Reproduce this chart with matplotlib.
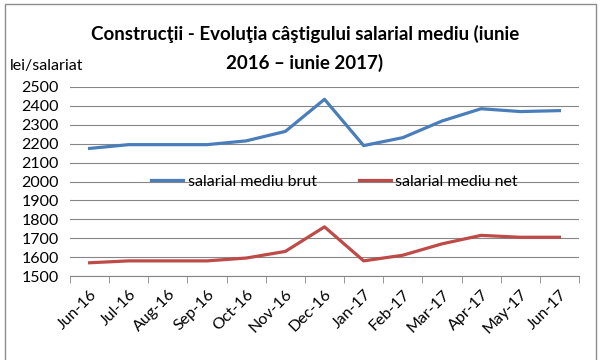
import matplotlib.pyplot as plt
import numpy as np
from matplotlib.patches import Rectangle

months = ['Jun-16', 'Jul-16', 'Aug-16', 'Sep-16', 'Oct-16', 'Nov-16', 'Dec-16',
          'Jan-17', 'Feb-17', 'Mar-17', 'Apr-17', 'May-17', 'Jun-17']
brut = [2175, 2195, 2195, 2195, 2215, 2265, 2435, 2190, 2232, 2320, 2385, 2370, 2375]
net = [1570, 1580, 1580, 1580, 1595, 1630, 1760, 1580, 1610, 1670, 1715, 1705, 1705]
yticks = list(range(1500, 2501, 100))

plt.rcParams['font.family'] = ['Lato', 'DejaVu Sans']

fig = plt.figure(figsize=(6.09, 3.6), dpi=100)
# chart frame
fig.patches.append(Rectangle((5 / 609, -0.05), 591 / 609, 1.04, transform=fig.transFigure,
                             fill=False, edgecolor='#8c8c8c', lw=1))

ax = fig.add_axes([70 / 609, 1 - 276 / 360, 509 / 609, 189 / 360])
x = np.arange(len(months))
ax.plot(x, brut, color='#4A7EBB', lw=2.3, label='salarial mediu brut')
ax.plot(x, net, color='#BE4B48', lw=2.3, label='salarial mediu net')

ax.set_xlim(-0.5, len(months) - 0.5)
ax.set_ylim(1500, 2500)
ax.set_yticks(yticks)
ax.set_yticklabels([str(v) for v in yticks], fontsize=11.5)
ax.yaxis.grid(True, color='#868686', lw=0.8)
ax.set_axisbelow(True)
ax.tick_params(axis='y', length=0, pad=8)

ax.set_xticks(x)
ax.set_xticklabels(months, rotation=45, ha='right', rotation_mode='anchor', fontsize=11.5)
ax.set_xticks(np.arange(-0.5, len(months)), minor=True)
ax.tick_params(axis='x', which='major', length=0, pad=8)
ax.tick_params(axis='x', which='minor', length=5, color='#868686', direction='out')

for s in ['left', 'right', 'top']:
    ax.spines[s].set_visible(False)
ax.spines['bottom'].set_color('#868686')

ax.legend(loc='center', bbox_to_anchor=(0.52, 0.5), ncol=2, frameon=False,
          fontsize=11.5, handlelength=2.0, handletextpad=0.3, columnspacing=2.6)

fig.text(305 / 609, 1 - 34 / 360, 'Construcţii - Evoluţia câştigului salarial mediu (iunie',
         ha='center', va='center', fontsize=13.5, fontweight='bold')
fig.text(305 / 609, 1 - 63 / 360, '2016 – iunie 2017)',
         ha='center', va='center', fontsize=13.5, fontweight='bold')
fig.text(10 / 609, 1 - 66 / 360, 'lei/salariat', ha='left', va='center', fontsize=11.5)

fig.savefig('out.png', dpi=100)
